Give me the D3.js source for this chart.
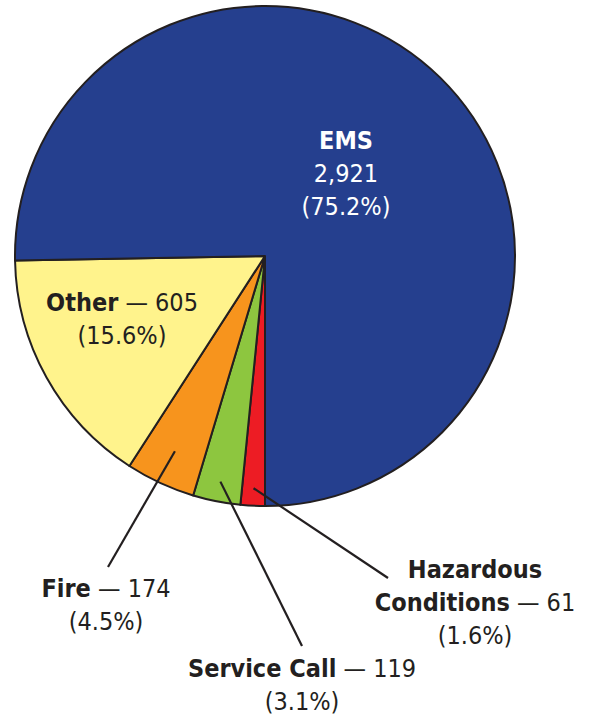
<!DOCTYPE html>
<html><head><meta charset="utf-8">
<script src="https://cdn.jsdelivr.net/npm/d3@7"></script>
<style>
html,body{margin:0;padding:0;background:#fff;}
text{font-family:"Liberation Sans Narrow","DejaVu Sans Condensed","Arial Narrow",sans-serif;}
</style></head>
<body>
<svg id="chart" width="592" height="715"></svg>
<script>
const categories = ["Hazardous Conditions", "Service Call", "Fire", "Other", "EMS"];
const values = [61, 119, 174, 605, 2921];
const percents = ["1.6%", "3.1%", "4.5%", "15.6%", "75.2%"];
const colors = ["#ed1c24", "#8dc63f", "#f7941d", "#fff38c", "#253f8e"];

const svg = d3.select("#chart");
const cx = 265, cy = 256, r = 250;
const g = svg.append("g").attr("transform", `translate(${cx},${cy})`);

const pie = d3.pie().sort(null).value(d => d.v).startAngle(Math.PI).endAngle(3 * Math.PI);
const data = categories.map((c, i) => ({c, v: values[i], p: percents[i], col: colors[i]}));
const arcs = pie(data);
const arc = d3.arc().innerRadius(0).outerRadius(r);

g.selectAll("path").data(arcs).enter().append("path")
  .attr("d", arc).attr("fill", d => d.data.col)
  .attr("stroke", "#231f20").attr("stroke-width", 2).attr("stroke-linejoin", "round");

const fmt = d3.format(",");
const ink = "#231f20";
const fs = 25;

// leader lines: [index, inner radius fraction, end x, end y]
const leaders = [
  {i: 0, rr: 0.93, x2: 388, y2: 578},
  {i: 1, rr: 0.92, x2: 302, y2: 646},
  {i: 2, rr: 0.86, x2: 108, y2: 567}
];
leaders.forEach(L => {
  const a = arcs[L.i];
  const m = (a.startAngle + a.endAngle) / 2;
  const x1 = cx + Math.sin(m) * r * L.rr, y1 = cy - Math.cos(m) * r * L.rr;
  svg.append("line").attr("x1", x1).attr("y1", y1).attr("x2", L.x2).attr("y2", L.y2)
    .attr("stroke", ink).attr("stroke-width", 2.2);
});

function label(lines, x, y, color) {
  const t = svg.append("text").attr("x", x).attr("y", y).attr("text-anchor", "middle")
    .attr("fill", color).attr("font-size", fs);
  lines.forEach((ln, k) => {
    const ts = t.append("tspan").attr("x", x).attr("dy", k === 0 ? 0 : 33);
    ln.forEach(part => {
      ts.append("tspan").attr("font-weight", part.b ? "bold" : "normal").text(part.t);
    });
  });
}

const d = data;
label([[{t: "EMS", b: true}], [{t: fmt(d[4].v)}], [{t: "(" + d[4].p + ")"}]], 346, 149, "#ffffff");
label([[{t: "Other", b: true}, {t: " \u2014 " + fmt(d[3].v)}], [{t: "(" + d[3].p + ")"}]], 122, 311, ink);
label([[{t: "Fire", b: true}, {t: " \u2014 " + fmt(d[2].v)}], [{t: "(" + d[2].p + ")"}]], 106, 597, ink);
label([[{t: "Service Call", b: true}, {t: " \u2014 " + fmt(d[1].v)}], [{t: "(" + d[1].p + ")"}]], 302, 677, ink);
label([[{t: "Hazardous", b: true}], [{t: "Conditions", b: true}, {t: " \u2014 " + fmt(d[0].v)}], [{t: "(" + d[0].p + ")"}]], 475, 578, ink);
</script>
</body></html>
